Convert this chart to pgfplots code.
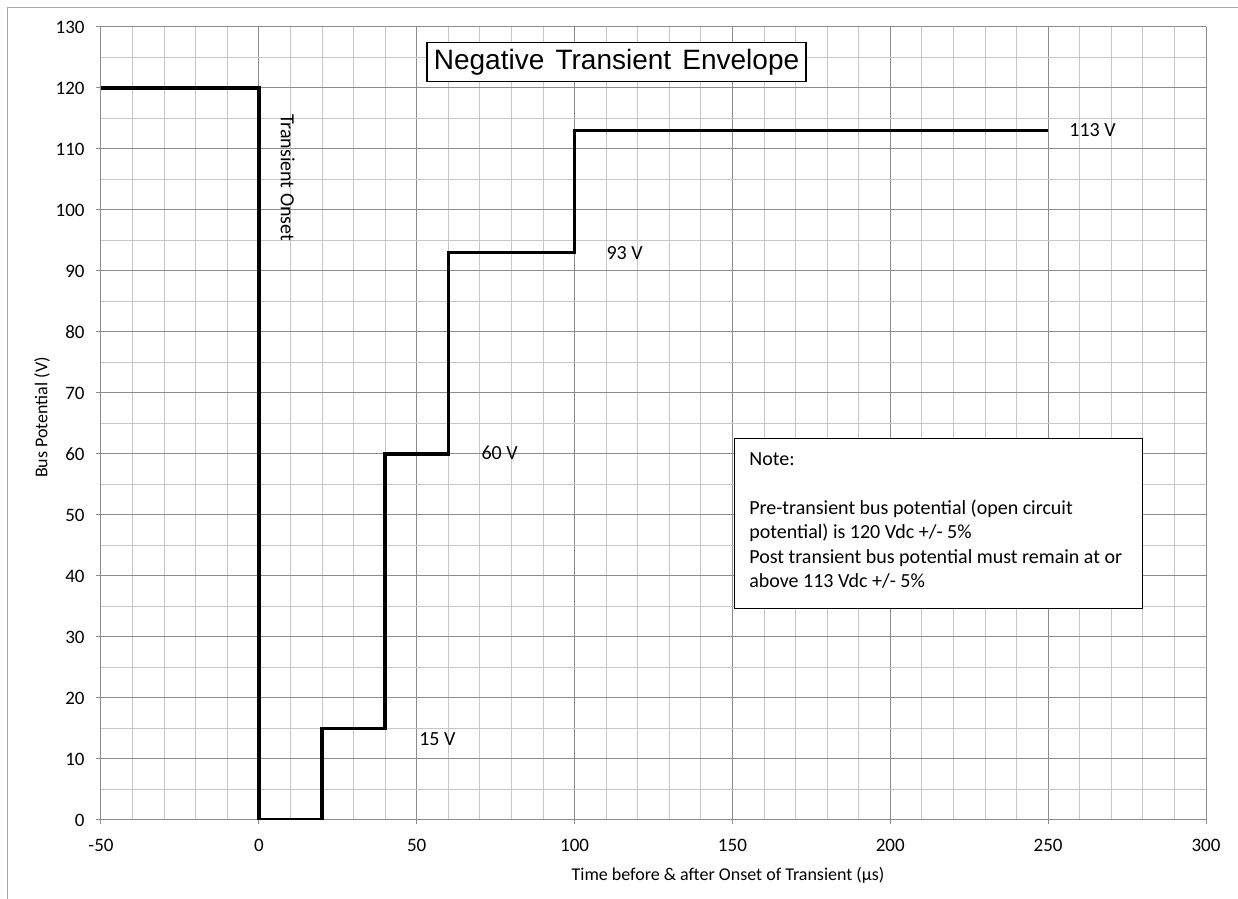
\documentclass[border=0pt]{standalone}
\usepackage{fontspec}
\setmainfont{Carlito}
\newfontfamily\arialfont{Liberation Sans}
\usepackage{pgfplots}
\pgfplotsset{compat=1.18}
\definecolor{majgrid}{HTML}{8C8C8C}
\definecolor{mingrid}{HTML}{C6C6C6}
\definecolor{framegray}{HTML}{A6A6A6}

\begin{document}
\begin{tikzpicture}
    % page size: 1 px of the reference = 0.5 pt, origin at lower left of plot area
    \path[use as bounding box] (-50.5pt,-39.5pt) rectangle (568.5pt,410pt);
    \draw[framegray, line width=0.5pt] (-46.5pt,-39.5pt) -- (-46.5pt,406pt) -- (568.5pt,406pt);

    \begin{axis}[
            at={(0pt,0pt)}, anchor=south west,
            scale only axis,
            width=552.5pt, height=396.5pt,
            xmin=-50, xmax=300,
            ymin=0, ymax=130,
            xtick={-50,0,...,300},
            ytick={0,10,...,130},
            minor x tick num=4,
            minor y tick num=1,
            grid=both,
            major grid style={majgrid, line width=0.5pt},
            minor grid style={mingrid, line width=0.5pt},
            axis lines*=left,
            axis line style={majgrid, line width=0.5pt},
            tick align=outside,
            major tick length=2.25pt,
            minor tick length=0pt,
            tick style={majgrid, line width=0.5pt},
            /pgf/number format/assume math mode=true,
            tick label style={font=\fontsize{9.5}{11}\selectfont},
            xticklabel style={anchor=center, yshift=-10.6pt},
            yticklabel style={anchor=east, inner sep=0pt, xshift=-5.75pt},
            xlabel={Time before \& after Onset of Transient (μs)},
            ylabel={Bus Potential (V)},
            xlabel style={at={(axis description cs:0.5,0)}, anchor=center,
                    xshift=37.25pt, yshift=-27.5pt, font=\fontsize{9}{11}\selectfont},
            ylabel style={at={([xshift=-29.5pt,yshift=3pt]axis description cs:0,0.5)},
                    anchor=center, font=\fontsize{9}{11}\selectfont},
        ]

        % --- envelope ---
        \addplot[black, line width=1.75pt, line join=miter, mark=none] coordinates {
                (-50,120) (0,120) (0,0) (20,0) (20,15) (40,15) (40,60)
                (60,60) (60,93) (100,93) (100,113) (250,113)
            };

        % --- level labels ---
        \node[anchor=west, inner sep=0pt, font=\fontsize{10}{12}\selectfont] at (axis cs:256.6,113.1) {113 V};
        \node[anchor=west, inner sep=0pt, font=\fontsize{10}{12}\selectfont] at (axis cs:110,93) {93 V};
        \node[anchor=west, inner sep=0pt, font=\fontsize{10}{12}\selectfont] at (axis cs:70.4,60.2) {60 V};
        \node[anchor=west, inner sep=0pt, font=\fontsize{10}{12}\selectfont] at (axis cs:50.7,13.2) {15 V};
        \node[rotate=-90, inner sep=0pt, font=\fontsize{10}{12}\selectfont] at (axis cs:9.1,105.3) {Transient Onset};

        % --- title box ---
        \node[draw=black, line width=0.6pt, fill=white, inner sep=0pt,
            minimum width=189.5pt, minimum height=19.5pt,
            font=\arialfont\fontsize{14}{16}\selectfont]
            at (axis cs:113.3,124.3) {Negative\hspace{5.6pt}Transient\hspace{5.6pt}Envelope};

        % --- note box ---
        \draw[black, line width=0.5pt, fill=white] (axis cs:150.8,62.62)
            rectangle ([xshift=204pt,yshift=-85pt]axis cs:150.8,62.62);
        \node[anchor=north west, inner sep=0pt, align=left,
            font=\fontsize{10}{12.25}\selectfont]
            at ([xshift=7pt,yshift=-7pt]axis cs:150.8,62.62) {Note:\\[12.25pt]
                Pre-transient bus potential (open circuit\\
                potential) is 120 Vdc +/- 5\%\\
                Post transient bus potential must remain at or\\
                above 113 Vdc +/- 5\%};
    \end{axis}
\end{tikzpicture}
\end{document}
